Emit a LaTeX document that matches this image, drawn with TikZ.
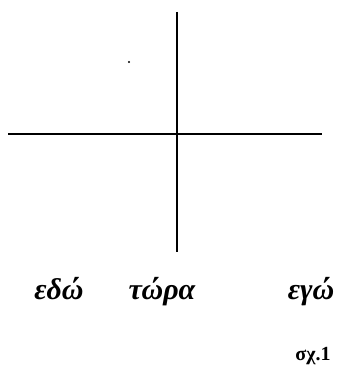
\documentclass[tikz,border=0pt]{standalone}
\usepackage{fontspec}
\setmainfont{Liberation Serif}
\begin{document}
\begin{tikzpicture}[x=1pt,y=1pt,
  axis/.style={line width=1.8pt},
  word/.style={font=\fontsize{30}{34}\selectfont\bfseries\itshape, anchor=base, inner sep=0pt},
  figcaption/.style={font=\fontsize{20}{24}\selectfont\bfseries, anchor=base, inner sep=0pt}]
\useasboundingbox (0,0) rectangle (345,371);
\coordinate (vtop) at (177,359);
\coordinate (vbot) at (177,119);
\coordinate (hl) at (8,237);
\coordinate (hr) at (322,237);
\draw[axis] (vtop) -- (vbot);
\draw[axis] (hl) -- (hr);
\fill (129,309) circle (1.2);
\node[word] (edo) at (59,71) {εδώ};
\node[word] (tora) at (162,71) {τώρα};
\node[word] (ego) at (311,71) {εγώ};
\node[figcaption] (sx) at (313,10) {σχ.1};
\end{tikzpicture}
\end{document}
